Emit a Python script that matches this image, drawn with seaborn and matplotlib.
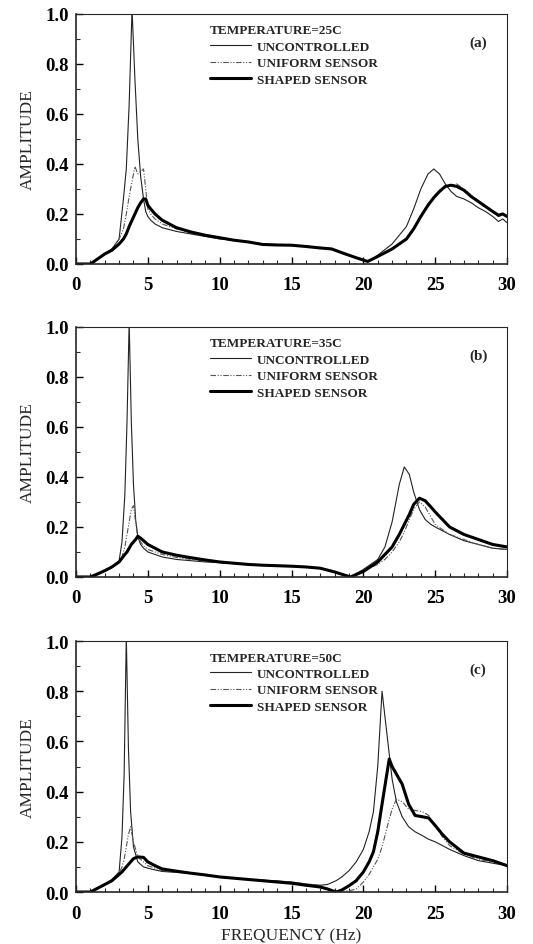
import numpy as np
import pandas as pd
import matplotlib
matplotlib.use("Agg")
import matplotlib.pyplot as plt
from matplotlib.lines import Line2D
from matplotlib.ticker import MultipleLocator
import seaborn as sns

# ---------------- data ----------------
freq_a = [0, 1.0, 1.5, 2.0, 2.5, 3.0, 3.3, 3.5, 3.7, 3.9, 4.1, 4.3, 4.5, 4.7, 4.85, 5.0, 5.2, 5.5,
          6.0, 7, 8, 9, 10, 11, 12, 13, 14, 15, 16, 17, 17.8, 18.5, 19.5, 20.3, 21, 22, 23, 23.5,
          24, 24.5, 24.9, 25.3, 25.7, 26.1, 26.5, 27, 27.5, 28, 28.5, 29, 29.4, 29.7, 30]
unc_a = [0, 0, 0.02, 0.04, 0.06, 0.1, 0.26, 0.38, 0.64, 1.02, 0.74, 0.5, 0.35, 0.26, 0.21, 0.19,
         0.175, 0.16, 0.145, 0.13, 0.12, 0.11, 0.1, 0.095, 0.088, 0.08, 0.077, 0.075, 0.072, 0.065,
         0.06, 0.045, 0.025, 0.01, 0.035, 0.08, 0.15, 0.22, 0.3, 0.36, 0.38, 0.36, 0.32, 0.29, 0.27,
         0.26, 0.245, 0.225, 0.21, 0.19, 0.17, 0.18, 0.165]
uni_a = [0, 0, 0.02, 0.04, 0.06, 0.1, 0.14, 0.2, 0.27, 0.33, 0.39, 0.36, 0.37, 0.38, 0.3, 0.22,
         0.2, 0.18, 0.16, 0.14, 0.125, 0.115, 0.1, 0.095, 0.088, 0.08, 0.077, 0.075, 0.07, 0.067,
         0.062, 0.045, 0.025, 0.01, 0.03, 0.06, 0.1, 0.14, 0.19, 0.24, 0.27, 0.295, 0.31, 0.315,
         0.32, 0.3, 0.275, 0.25, 0.23, 0.21, 0.19, 0.195, 0.19]
shp_a = [0, 0, 0.02, 0.04, 0.055, 0.08, 0.1, 0.12, 0.15, 0.175, 0.2, 0.225, 0.245, 0.26, 0.26,
         0.235, 0.22, 0.2, 0.175, 0.145, 0.128, 0.115, 0.105, 0.095, 0.088, 0.078, 0.076, 0.075,
         0.07, 0.064, 0.06, 0.045, 0.025, 0.01, 0.03, 0.06, 0.1, 0.14, 0.19, 0.235, 0.265, 0.29,
         0.31, 0.315, 0.31, 0.295, 0.27, 0.25, 0.23, 0.21, 0.195, 0.2, 0.19]

freq_b = [0, 1, 1.5, 2, 2.5, 3, 3.2, 3.4, 3.55, 3.7, 3.85, 4.0, 4.15, 4.3, 4.5, 4.7, 5, 5.5, 6, 7,
          8, 9, 10, 11, 12, 13, 14, 15, 16, 17, 18, 19.1, 20, 21, 21.5, 22, 22.5, 22.85, 23.2, 23.5,
          23.9, 24.3, 24.7, 25, 25.5, 26, 27, 28, 29, 30]
unc_b = [0, 0, 0.012, 0.025, 0.04, 0.065, 0.14, 0.33, 0.62, 1.02, 0.62, 0.37, 0.23, 0.16, 0.13, 0.115,
         0.1, 0.09, 0.08, 0.07, 0.065, 0.06, 0.057, 0.053, 0.05, 0.047, 0.045, 0.043, 0.04, 0.035,
         0.02, 0.0, 0.03, 0.07, 0.12, 0.22, 0.37, 0.44, 0.41, 0.34, 0.27, 0.23, 0.21, 0.2, 0.185,
         0.17, 0.145, 0.13, 0.115, 0.11]
uni_b = [0, 0, 0.012, 0.025, 0.04, 0.06, 0.08, 0.12, 0.17, 0.22, 0.27, 0.285, 0.22, 0.16, 0.14,
         0.125, 0.11, 0.1, 0.09, 0.078, 0.07, 0.063, 0.058, 0.053, 0.05, 0.047, 0.045, 0.043, 0.04,
         0.035, 0.02, 0.0, 0.025, 0.05, 0.07, 0.1, 0.14, 0.18, 0.23, 0.27, 0.3, 0.28, 0.24, 0.21,
         0.19, 0.17, 0.15, 0.13, 0.115, 0.11]
shp_b = [0, 0, 0.012, 0.025, 0.04, 0.06, 0.075, 0.09, 0.1, 0.115, 0.13, 0.14, 0.15, 0.163, 0.155,
         0.145, 0.13, 0.115, 0.1, 0.087, 0.077, 0.068, 0.06, 0.055, 0.05, 0.047, 0.045, 0.043,
         0.04, 0.035, 0.02, 0.0, 0.022, 0.06, 0.09, 0.12, 0.17, 0.21, 0.25, 0.29, 0.315, 0.305,
         0.28, 0.26, 0.23, 0.2, 0.17, 0.15, 0.13, 0.12]

freq_c = [0, 1, 1.5, 2, 2.5, 3, 3.2, 3.35, 3.5, 3.65, 3.8, 4.0, 4.3, 4.7, 5, 5.5, 6, 7, 8, 9, 10,
          11, 12, 13, 14, 15, 16, 17, 17.5, 18.1, 18.5, 19, 19.5, 20, 20.4, 20.7, 21.0, 21.3, 21.8,
          22.0, 22.3, 22.7, 23.15, 23.6, 24.1, 24.55, 25.0, 25.5, 26, 27, 28, 29, 30]
unc_c = [0, 0, 0.015, 0.03, 0.05, 0.08, 0.22, 0.47, 1.02, 0.57, 0.32, 0.18, 0.12, 0.1, 0.095, 0.088,
         0.082, 0.078, 0.075, 0.068, 0.06, 0.055, 0.05, 0.047, 0.044, 0.04, 0.032, 0.027, 0.03,
         0.045, 0.06, 0.085, 0.12, 0.17, 0.24, 0.32, 0.5, 0.8, 0.55, 0.45, 0.36, 0.3, 0.26, 0.24,
         0.225, 0.21, 0.2, 0.185, 0.17, 0.145, 0.125, 0.115, 0.105]
uni_c = [0, 0, 0.015, 0.03, 0.05, 0.075, 0.1, 0.13, 0.18, 0.23, 0.26, 0.2, 0.14, 0.12, 0.105,
         0.095, 0.085, 0.078, 0.075, 0.068, 0.06, 0.055, 0.05, 0.047, 0.044, 0.04, 0.032, 0.025,
         0.015, 0.005, 0.003, 0.005, 0.012, 0.04, 0.07, 0.1, 0.13, 0.18, 0.29, 0.33, 0.37, 0.36,
         0.33, 0.325, 0.32, 0.305, 0.265, 0.22, 0.185, 0.15, 0.13, 0.12, 0.11]
shp_c = [0, 0, 0.015, 0.03, 0.045, 0.07, 0.08, 0.09, 0.1, 0.11, 0.12, 0.133, 0.14, 0.138, 0.12,
         0.105, 0.092, 0.083, 0.075, 0.068, 0.06, 0.055, 0.05, 0.045, 0.04, 0.035, 0.027, 0.02,
         0.012, 0.0, 0.008, 0.025, 0.045, 0.08, 0.12, 0.16, 0.24, 0.35, 0.53, 0.5, 0.47, 0.43,
         0.35, 0.305, 0.3, 0.295, 0.265, 0.23, 0.2, 0.155, 0.14, 0.125, 0.105]

series_names = ["UNCONTROLLED", "UNIFORM SENSOR", "SHAPED SENSOR"]
temperatures = ["TEMPERATURE=25C", "TEMPERATURE=35C", "TEMPERATURE=50C"]
panel_tags = ["(a)", "(b)", "(c)"]
x_ticks = [0, 5, 10, 15, 20, 25, 30]
y_ticks = [0.0, 0.2, 0.4, 0.6, 0.8, 1.0]

panels = [
    (freq_a, unc_a, uni_a, shp_a),
    (freq_b, unc_b, uni_b, shp_b),
    (freq_c, unc_c, uni_c, shp_c),
]

# ---------------- styling ----------------
sns.set_style("ticks")
plt.rcParams["font.family"] = ["Liberation Serif", "DejaVu Serif"]
plt.rcParams["mathtext.default"] = "regular"

styles = {
    "UNCONTROLLED": dict(lw=0.8, ls="-", color="#222222"),
    "UNIFORM SENSOR": dict(lw=0.8, ls=(0, (5, 1.5, 1, 1.5, 1, 1.5)), color="#555555"),
    "SHAPED SENSOR": dict(lw=2.2, ls="-", color="black"),
}

fig = plt.figure(figsize=(5.33, 9.45), dpi=100)
fig.patch.set_facecolor("white")

axes_rects = [
    (0.1426, 0.7196, 0.8087, 0.2646),
    (0.1426, 0.3884, 0.8087, 0.2646),
    (0.1426, 0.0550, 0.8087, 0.2656),
]

for i, (rect, (fq, u, un, s)) in enumerate(zip(axes_rects, panels)):
    ax = fig.add_axes(rect)
    df = pd.DataFrame({
        "freq": fq * 3,
        "amp": u + un + s,
        "series": [series_names[0]] * len(fq) + [series_names[1]] * len(fq) + [series_names[2]] * len(fq),
    })
    for name in series_names:
        sub = df[df["series"] == name]
        st = styles[name]
        sns.lineplot(data=sub, x="freq", y="amp", ax=ax, color=st["color"], lw=st["lw"],
                     linestyle=st["ls"], estimator=None, sort=False, legend=False)

    ax.set_xlim(0, 30)
    ax.set_ylim(0, 1.0)
    ax.set_xticks(x_ticks)
    ax.set_yticks(y_ticks)
    ax.set_xticklabels([str(t) for t in x_ticks])
    ax.set_yticklabels([f"{t:.1f}" for t in y_ticks])
    ax.xaxis.set_minor_locator(MultipleLocator(1))
    ax.yaxis.set_minor_locator(MultipleLocator(0.1))
    ax.tick_params(axis="both", which="major", direction="in", length=5, width=1.0,
                   labelsize=13.5, colors="black")
    ax.tick_params(axis="both", which="minor", direction="in", length=3, width=0.8)
    ax.tick_params(axis="x", which="major", pad=9)
    ax.tick_params(axis="y", which="major", pad=5)
    for lab in ax.get_xticklabels() + ax.get_yticklabels():
        lab.set_fontweight("bold")
    for side in ["left", "bottom"]:
        ax.spines[side].set_linewidth(1.2)
    for side in ["top", "right"]:
        ax.spines[side].set_visible(True)
        ax.spines[side].set_linewidth(0.8)

    ax.set_ylabel("AMPLITUDE", fontsize=12.5, labelpad=7)
    if i == 2:
        ax.set_xlabel("FREQUENCY (Hz)", fontsize=12.5, labelpad=4)
    else:
        ax.set_xlabel("")

    handles = [Line2D([], [], color=styles[n]["color"], lw=styles[n]["lw"], linestyle=styles[n]["ls"])
               for n in series_names]
    leg = ax.legend(handles, series_names, title=temperatures[i], loc="upper left",
                    bbox_to_anchor=(0.311, 0.958), frameon=False, borderpad=0, borderaxespad=0,
                    handlelength=3.1, handletextpad=0.45, labelspacing=0.32,
                    prop={"size": 9.5, "weight": "bold"},
                    title_fontproperties={"size": 9.5, "weight": "bold"}, alignment="left")
    ax.text(0.933, 0.888, panel_tags[i], transform=ax.transAxes, ha="center", va="center",
            fontsize=11, fontweight="bold")

fig.savefig("out.png", dpi=100, facecolor="white")
